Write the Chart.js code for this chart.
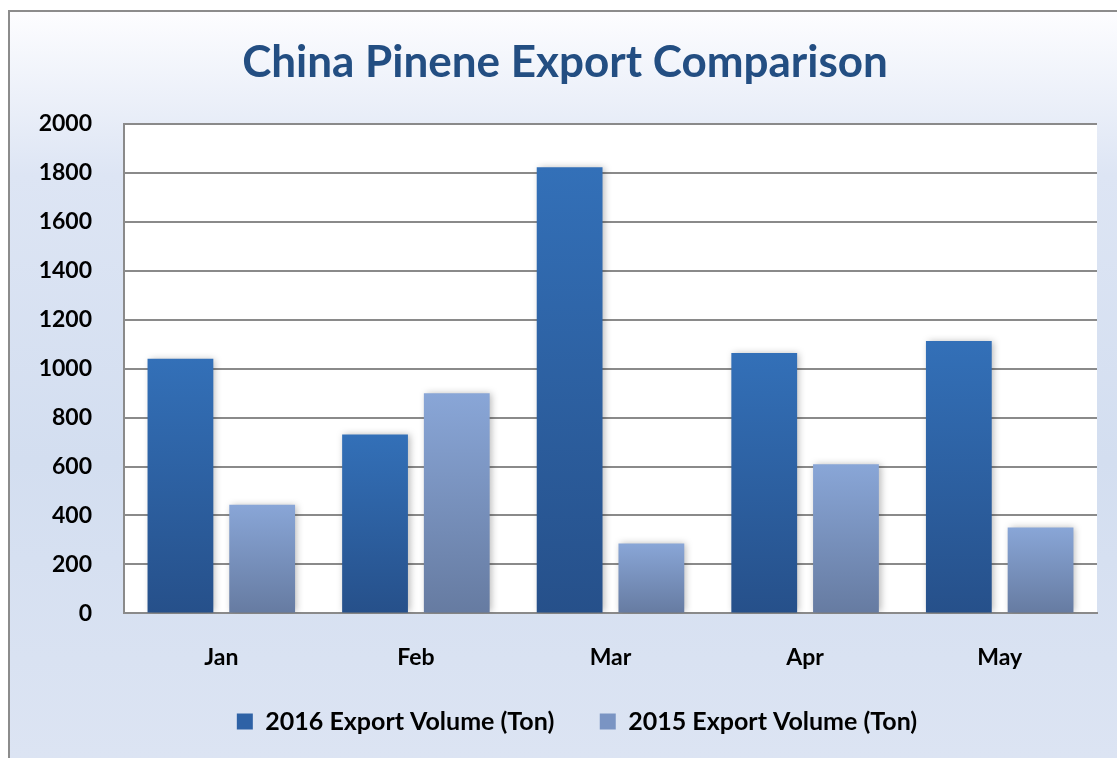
<!DOCTYPE html>
<html>
<head>
<meta charset="utf-8">
<script src="https://cdn.jsdelivr.net/npm/chart.js@4"></script>
<style>
  html, body { margin: 0; padding: 0; background: #ffffff; }
  #wrap { width: 1117px; height: 758px; }
</style>
</head>
<body>
<div id="wrap"><canvas id="bar-chart"></canvas></div>
<script>
// values
var months = ["Jan", "Feb", "Mar", "Apr", "May"];
var export2016 = [1040, 731, 1822, 1064, 1113];
var export2015 = [444, 899, 286, 609, 351];
var seriesNames = ["2016 Export Volume (Ton)", "2015 Export Volume (Ton)"];

var FONT = "Lato";

// vertical gradient per bar, top colour -> bottom colour
function barGradient(top, bottom, fallback) {
  return function(c) {
    var chart = c.chart;
    if (!chart.chartArea || c.dataIndex == null) return fallback;
    var y = chart.scales.y;
    var v = c.dataset.data[c.dataIndex];
    var y0 = y.getPixelForValue(v);
    var y1 = y.getPixelForValue(0);
    var g = chart.ctx.createLinearGradient(0, y0, 0, y1);
    g.addColorStop(0, top);
    g.addColorStop(1, bottom);
    return g;
  };
}

// frame with light blue gradient, white plot area, soft bar shadow
var backdrop = {
  id: "backdrop",
  afterLayout: function(chart) {
    // legend sits a little right of the chart centre in the original
    chart.legend.left += 12;
    chart.legend.right += 12;
  },
  beforeDraw: function(chart) {
    var ctx = chart.ctx, a = chart.chartArea;
    ctx.save();
    var g = ctx.createLinearGradient(0, 11, 0, 758);
    g.addColorStop(0, "#fdfdff");
    g.addColorStop(0.22, "#dde5f4");
    g.addColorStop(0.6, "#d3def0");
    g.addColorStop(1, "#dce4f3");
    ctx.fillStyle = g;
    ctx.fillRect(9, 11, 1117, 758);
    ctx.strokeStyle = "#8c8c8c";
    ctx.lineWidth = 2;
    ctx.strokeRect(9, 11, 1130, 770);
    ctx.fillStyle = "#ffffff";
    ctx.fillRect(a.left, a.top, a.right - a.left, a.bottom - a.top);
    ctx.restore();
  },
  beforeDatasetsDraw: function(chart) {
    var ctx = chart.ctx;
    ctx.save();
    ctx.shadowColor = "rgba(0,0,0,0.28)";
    ctx.shadowBlur = 7;
    ctx.shadowOffsetX = 2;
    ctx.shadowOffsetY = 0;
  },
  afterDatasetsDraw: function(chart) {
    chart.ctx.restore();
  }
};

var legendCols = ["#2e62a6", "#7a94c3"];

new Chart(document.getElementById("bar-chart"), {
  type: "bar",
  data: {
    labels: months,
    datasets: [
      {
        label: seriesNames[0],
        data: export2016,
        backgroundColor: barGradient("#3370b8", "#26508a", "#2e62a6"),
        borderWidth: 0
      },
      {
        label: seriesNames[1],
        data: export2015,
        backgroundColor: barGradient("#89a6d7", "#667ba1", "#7a94c3"),
        borderWidth: 0
      }
    ]
  },
  plugins: [backdrop],
  options: {
    responsive: true,
    maintainAspectRatio: false,
    animation: false,
    devicePixelRatio: 1,
    categoryPercentage: 0.84,
    barPercentage: 0.805,
    layout: {
      padding: { left: 33, right: 20, top: 0, bottom: 14 }
    },
    plugins: {
      title: {
        display: true,
        text: "China Pinene Export Comparison",
        color: "#234e82",
        font: { family: FONT, size: 44, weight: "bold" },
        padding: { top: 36, bottom: 35 }
      },
      legend: {
        display: true,
        position: "bottom",
        labels: {
          color: "#000000",
          font: { family: FONT, size: 25, weight: "bold" },
          boxWidth: 16,
          boxHeight: 16,
          padding: 8,
          generateLabels: function(chart) {
            return chart.data.datasets.map(function(ds, i) {
              // trailing en spaces widen the gap to the next item
              var txt = i === 0 ? ds.label + "\u2002\u2002\u2002" : ds.label;
              return {
                text: txt,
                fillStyle: legendCols[i],
                strokeStyle: legendCols[i],
                lineWidth: 0,
                datasetIndex: i,
                fontColor: "#000000"
              };
            });
          }
        }
      },
      tooltip: { enabled: false }
    },
    scales: {
      x: {
        grid: { display: false, drawTicks: false },
        border: { display: true, color: "#8a8a8a", width: 2 },
        ticks: {
          color: "#000000",
          font: { family: FONT, size: 23, weight: "bold" },
          padding: 30
        }
      },
      y: {
        min: 0,
        max: 2000,
        afterFit: function(scale) { scale.width = 91; },
        grid: { color: "#8a8a8a", lineWidth: 2, drawTicks: false },
        border: { display: true, color: "#8a8a8a", width: 2 },
        ticks: {
          stepSize: 200,
          color: "#000000",
          font: { family: FONT, size: 23, weight: "bold" },
          padding: 32,
          callback: function(v) { return String(v); }
        }
      }
    }
  }
});
</script>
</body>
</html>
